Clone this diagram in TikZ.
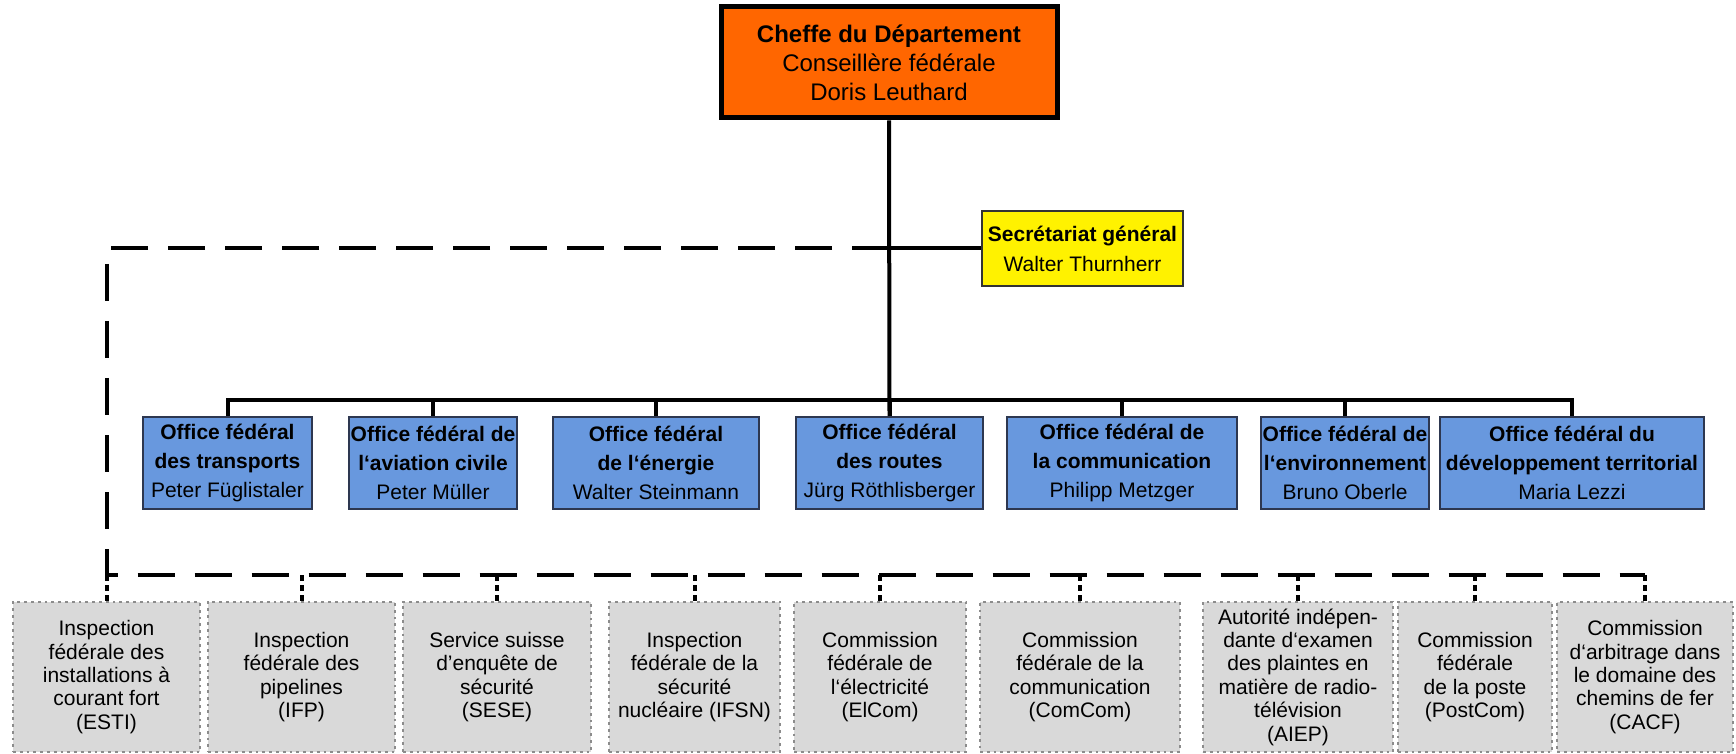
\documentclass[tikz,border=0pt]{standalone}
\usepackage{fontspec}
\setmainfont{Liberation Sans}
\usepackage{tikz}
\usepackage{xcolor}
\definecolor{head-orange}{RGB}{255,102,0}
\definecolor{office-blue}{RGB}{104,152,222}
\definecolor{office-edge}{RGB}{45,55,80}
\definecolor{comm-grey}{RGB}{217,217,217}
\tikzset{
    head-box/.style = {draw=black, fill=head-orange, line width=2.5pt, rectangle, align=center, inner sep=0pt, font=\fontsize{12}{14.5}\selectfont},
    secr-box/.style = {draw=black!80, fill=yellow, line width=1pt, rectangle, align=center, inner sep=0pt, font=\fontsize{10.5}{15}\selectfont},
    office-box/.style = {draw=office-edge, fill=office-blue, line width=1pt, rectangle, align=center, inner sep=0pt, minimum height=46pt, font=\fontsize{10.5}{14.5}\selectfont},
    comm-box/.style = {draw=black!45, fill=comm-grey, line width=1.4pt, dotted, rectangle, align=center, inner sep=0pt, minimum height=75pt, font=\fontsize{10.5}{11.7}\selectfont},
    org-line/.style = {draw=black, line width=2pt},
    long-dash/.style = {draw=black, line width=2pt, dash pattern=on 18.5pt off 10pt},
    short-dash/.style = {draw=black, line width=2pt, dash pattern=on 3pt off 2pt},
}

\begin{document}
\begin{tikzpicture}[x=0.5pt,y=-0.5pt]
\useasboundingbox (0,0) rectangle (1736,754);

\node [head-box, minimum width=168pt, minimum height=55.5pt] (chef) at (889,62.5) {\textbf{Cheffe du Département}\\Conseillère fédérale\\Doris Leuthard};
\node [secr-box, minimum width=100.5pt, minimum height=37.5pt] (secr) at (1082.5,248.5) {\textbf{Secrétariat général}\\Walter Thurnherr};

% offices
\node [office-box, minimum width=84.5pt] (off1) at (227.5,463) {\textbf{Office fédéral}\\\textbf{des transports}\\Peter Füglistaler};
\node [office-box, minimum width=84pt] (off2) at (433,463) {\textbf{Office fédéral de}\\\textbf{l‘aviation civile}\\Peter Müller};
\node [office-box, minimum width=103pt] (off3) at (656,463) {\textbf{Office fédéral}\\\textbf{de l‘énergie}\\Walter Steinmann};
\node [office-box, minimum width=93.5pt] (off4) at (889.5,463) {\textbf{Office fédéral}\\\textbf{des routes}\\Jürg Röthlisberger};
\node [office-box, minimum width=115pt] (off5) at (1122,463) {\textbf{Office fédéral de}\\\textbf{la communication}\\Philipp Metzger};
\node [office-box, minimum width=84pt] (off6) at (1345,463) {\textbf{Office fédéral de}\\\textbf{l‘environnement}\\Bruno Oberle};
\node [office-box, minimum width=132pt] (off7) at (1572,463) {\textbf{Office fédéral du}\\\textbf{développement territorial}\\Maria Lezzi};

% commissions
\node [comm-box, minimum width=93.5pt] (comm1) at (106.5,677) {Inspection\\fédérale des\\installations à\\courant fort\\(ESTI)};
\node [comm-box, minimum width=93.5pt] (comm2) at (301.5,677) {Inspection\\fédérale des\\pipelines\\(IFP)};
\node [comm-box, minimum width=94pt] (comm3) at (497,677) {Service suisse\\d'enquête de\\sécurité\\(SESE)};
\node [comm-box, minimum width=85.5pt] (comm4) at (694.5,677) {Inspection\\fédérale de la\\sécurité\\nucléaire (IFSN)};
\node [comm-box, minimum width=86pt] (comm5) at (880,677) {Commission\\fédérale de\\l‘électricité\\(ElCom)};
\node [comm-box, minimum width=100pt] (comm6) at (1080,677) {Commission\\fédérale de la\\communication\\(ComCom)};
\node [comm-box, minimum width=95pt] (comm7) at (1298,677) {Autorité indépen-\\dante d‘examen\\des plaintes en\\matière de radio-\\télévision\\(AIEP)};
\node [comm-box, minimum width=77pt] (comm8) at (1475,677) {Commission\\fédérale\\de la poste\\(PostCom)};
\node [comm-box, minimum width=88pt] (comm9) at (1645,677) {Commission\\d‘arbitrage dans\\le domaine des\\chemins de fer\\(CACF)};

% solid lines
\draw [org-line] (chef.south) -- (off4.north);
\draw [org-line] (secr.west) -- (secr.west -| chef.south);
\draw [org-line] (off1.north) -- ++(0,-16) -| (off7.north);
\foreach \n in {2,...,6}
    \draw [org-line] (off\n.north) -- ++(0,-16);

% dashed lines
\coordinate (dash-corner) at (106.5,575);
\draw [long-dash] (secr.west -| chef.south) -| (dash-corner) -- (dash-corner -| comm9.north);
\foreach \n in {1,...,9}
    \draw [short-dash] (comm\n.north) -- (comm\n.north |- dash-corner);
\end{tikzpicture}
\end{document}
